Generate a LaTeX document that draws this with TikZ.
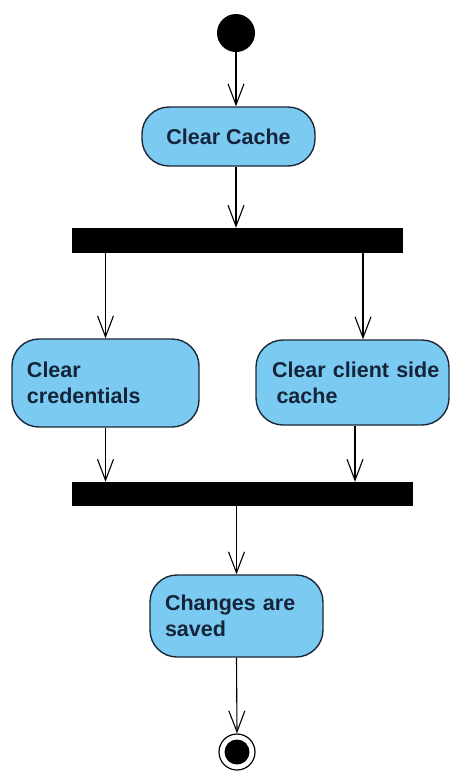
\documentclass[tikz,border=0pt]{standalone}
\usepackage{fontspec}
\setmainfont{Liberation Sans}
\usetikzlibrary{arrows.meta}
\definecolor{actfill}{RGB}{122,202,242}
\definecolor{actline}{RGB}{28,40,56}
\definecolor{acttext}{RGB}{22,36,58}
\begin{document}
\begin{tikzpicture}[x=1pt,y=-1pt,
  action/.style={draw=actline, line width=1.4pt, fill=actfill, rounded corners=27pt,
    text=acttext, font=\fontsize{21.5}{26}\selectfont\bfseries, inner sep=0pt},
  bar/.style={draw=black, fill=black, inner sep=0pt},
  flow/.style={draw=black, line width=1.1pt,
    -{Straight Barb[length=21pt,width=16pt,line width=1.1pt]}}]
\useasboundingbox (0,0) rectangle (451,774);

% initial node
\node[circle, fill=black, minimum size=38pt, inner sep=0pt] (start) at (236,33) {};

% actions
\node[action, minimum width=173pt, minimum height=59pt] (cc) at (228.5,136.5) {Clear Cache};
\node[action, minimum width=187pt, minimum height=88pt, text width=157pt, align=left]
  (cred) at (105.5,383) {Clear\\credentials};
\node[action, minimum width=193pt, minimum height=85pt, text width=180pt, align=left]
  (client) at (352.5,382.5) {\hspace*{9.5pt}Clear client side\\\hspace*{14pt}cache};
\node[action, minimum width=173pt, minimum height=82pt, text width=143pt, align=left]
  (saved) at (236.5,616) {Changes are\\saved};

% fork and join bars
\node[bar, minimum width=330pt, minimum height=24pt] (fork) at (237,240) {};
\node[bar, minimum width=340pt, minimum height=23pt] (join) at (242,493.5) {};

% final node
\node[circle, draw=black, line width=1.2pt, fill=white, minimum size=36pt, inner sep=0pt] (end) at (237,752) {};
\node[circle, fill=black, minimum size=25pt, inner sep=0pt] (endin) at (end) {};

% control flows
\draw[flow] (start) -- (cc.north -| start);
\draw[flow] (cc.south -| start) -- (fork.north -| start);
\draw[flow] (fork.south -| cred) -- (cred.north);
\draw[flow] ([xshift=10.5pt]client.north |- fork.south) -- ([xshift=10.5pt]client.north);
\draw[flow] (cred.south) -- (join.north -| cred);
\draw[flow] ([xshift=2.5pt]client.south) -- ([xshift=2.5pt]client.south |- join.north);
\draw[flow] (join.south -| saved) -- (saved.north);
\draw[flow] (saved.south) -- (end.north);
\end{tikzpicture}
\end{document}
